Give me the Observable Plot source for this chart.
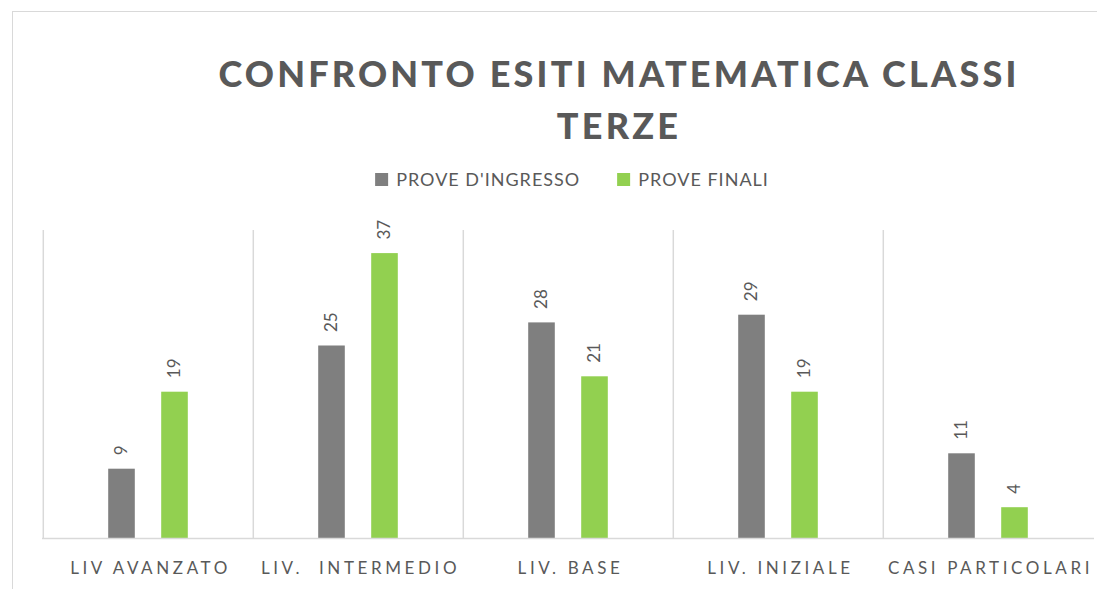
<!DOCTYPE html>
<html>
<head>
<meta charset="utf-8">
<script src="https://cdn.jsdelivr.net/npm/d3@7"></script>
<script src="https://cdn.jsdelivr.net/npm/@observablehq/plot@0.6"></script>
<style>
  html, body { margin: 0; padding: 0; background: #fff; }
  #page { position: relative; width: 1097px; height: 589px; overflow: hidden; font-family: Lato, "Open Sans", sans-serif; }
  #frame { position: absolute; left: 12px; top: 11px; width: 1200px; height: 700px; border-top: 1.5px solid #d9d9d9; border-left: 1.5px solid #d9d9d9; }
  #title { position: absolute; left: 619px; top: 47px; transform: translateX(-50%); text-align: center; white-space: nowrap;
           font-size: 36px; font-weight: 900; line-height: 52px; letter-spacing: 3.2px; color: #595959; }
  #legend { position: absolute; left: 572px; top: 169px; transform: translateX(-50%); display: flex; gap: 37px; white-space: nowrap;
            font-size: 18px; line-height: 20px; letter-spacing: 1px; color: #595959; }
  #legend .item { display: flex; align-items: center; gap: 8px; }
  #legend .sw { width: 13px; height: 13px; display: inline-block; }
  #chart { position: absolute; left: 0; top: 200px; }
</style>
</head>
<body>
<div id="page">
  <div id="frame"></div>
  <div id="title">CONFRONTO ESITI MATEMATICA CLASSI<br>TERZE</div>
  <div id="legend"></div>
  <div id="chart"></div>
</div>
<script>
const categories = ["LIV AVANZATO", "LIV.  INTERMEDIO", "LIV. BASE", "LIV. INIZIALE", "CASI PARTICOLARI"];
const seriesNames = ["PROVE D'INGRESSO", "PROVE FINALI"];
const proveIngresso = [9, 25, 28, 29, 11];
const proveFinali = [19, 37, 21, 19, 4];
const colors = ["#7f7f7f", "#92d050"];

const data = [];
categories.forEach((c, i) => {
  data.push({cat: c, series: seriesNames[0], value: proveIngresso[i]});
  data.push({cat: c, series: seriesNames[1], value: proveFinali[i]});
});

// legend
const legend = document.getElementById("legend");
seriesNames.forEach((s, i) => {
  const it = document.createElement("div");
  it.className = "item";
  it.innerHTML = `<span class="sw" style="background:${colors[i]}"></span><span>${s}</span>`;
  legend.appendChild(it);
});

const W = 1097, H = 389, mL = 42, mR = 3, mT = 30, mB = 51;
const step = (W - mL - mR) / categories.length;
const half = step / 2;

const d0 = data.filter(d => d.series === seriesNames[0]);
const d1 = data.filter(d => d.series === seriesNames[1]);

const chart = Plot.plot({
  width: W,
  height: H,
  marginLeft: mL,
  marginRight: mR,
  marginTop: mT,
  marginBottom: mB,
  style: {fontFamily: "Lato, 'Open Sans', sans-serif", background: "transparent"},
  x: {domain: categories, padding: 0, axis: null},
  y: {domain: [0, 40], axis: null},
  color: {domain: seriesNames, range: colors},
  marks: [
    Plot.ruleX(categories, {x: d => d, dx: -half, stroke: "#d9d9d9", strokeWidth: 1.5}),
    Plot.barY(d0, {x: "cat", y: "value", fill: "series", insetLeft: half - 40, insetRight: half + 13}),
    Plot.barY(d1, {x: "cat", y: "value", fill: "series", insetLeft: half + 13, insetRight: half - 40}),
    Plot.ruleY([0], {stroke: "#d9d9d9", strokeWidth: 1.5}),
    Plot.text(d0, {x: "cat", y: "value", text: d => String(d.value), rotate: -90, textAnchor: "start", dx: -26.5, dy: -14, fontSize: 17, fill: "#595959"}),
    Plot.text(d1, {x: "cat", y: "value", text: d => String(d.value), rotate: -90, textAnchor: "start", dx: 26.5, dy: -14, fontSize: 17, fill: "#595959"}),
    Plot.text(categories, {x: d => d, y: 0, dy: 30, text: d => d, fontSize: 17, fill: "#595959"})
  ]
});
d3.select(chart).selectAll("text")
  .filter(function() { return categories.includes(this.textContent); })
  .style("letter-spacing", "3.6px")
  .attr("dx", "2px");
document.getElementById("chart").appendChild(chart);
</script>
</body>
</html>
